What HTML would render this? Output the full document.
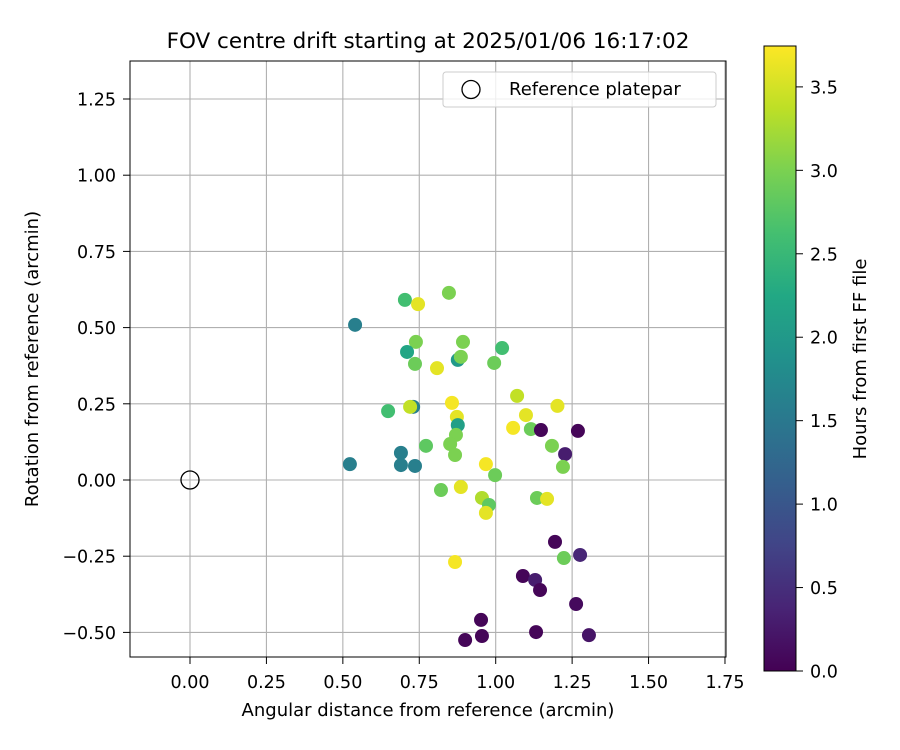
<!DOCTYPE html>
<html><head><meta charset="utf-8"><style>
html,body{margin:0;padding:0;background:#fff;}
svg{display:block;font-family:"DejaVu Sans","Liberation Sans",sans-serif;}
</style></head><body>
<svg id="chart" width="900" height="750" viewBox="0 0 900 750">
<defs>
<linearGradient id="vir" x1="0" y1="1" x2="0" y2="0">
<stop offset="0" stop-color="#440154"/><stop offset="0.1" stop-color="#482475"/><stop offset="0.2" stop-color="#414487"/><stop offset="0.3" stop-color="#355f8d"/><stop offset="0.4" stop-color="#2a788e"/><stop offset="0.5" stop-color="#21918c"/><stop offset="0.6" stop-color="#22a884"/><stop offset="0.7" stop-color="#44bf70"/><stop offset="0.8" stop-color="#7ad151"/><stop offset="0.9" stop-color="#bddf26"/><stop offset="1" stop-color="#fde725"/>
</linearGradient>
</defs>
<text x="428" y="48" text-anchor="middle" font-size="21.5" fill="#000">FOV centre drift starting at 2025/01/06 16:17:02</text>
<g id="grid"></g>
<g id="ticks"></g>
<g id="points"></g>
<circle id="refpt" r="9" fill="none" stroke="#000" stroke-width="1.3"/>
<rect x="130" y="61" width="596" height="596" fill="none" stroke="#000" stroke-width="1"/>
<g>
<rect x="443" y="72" width="273" height="35" rx="3" fill="#fff" fill-opacity="0.8" stroke="#ccc"/>
<circle cx="471" cy="89.5" r="9" fill="none" stroke="#000" stroke-width="1.3"/>
<text x="509" y="95" font-size="18">Reference platepar</text>
</g>
<text x="428" y="716" text-anchor="middle" font-size="18">Angular distance from reference (arcmin)</text>
<text transform="translate(38,359) rotate(-90)" text-anchor="middle" font-size="18">Rotation from reference (arcmin)</text>
<rect x="764" y="46" width="32" height="625" fill="url(#vir)" stroke="#000" stroke-width="1"/>
<g id="cbticks"></g>
<text transform="translate(866,359) rotate(-90)" text-anchor="middle" font-size="18">Hours from first FF file</text>
</svg>
<script>
const xs=[0.703,0.746,0.847,0.540,0.739,0.710,0.893,0.876,0.886,1.021,0.736,0.808,0.995,0.648,0.730,0.720,0.857,0.873,0.876,0.870,0.851,0.867,0.772,1.070,1.099,1.202,1.057,1.115,1.148,1.269,1.184,1.227,1.220,0.690,0.690,0.736,0.523,0.821,0.886,0.968,0.998,0.955,0.978,0.968,1.135,1.168,1.194,1.276,1.223,0.867,1.089,1.129,1.145,1.263,0.952,0.955,0.900,1.132,1.305];
const ys=[0.591,0.577,0.614,0.509,0.453,0.420,0.453,0.394,0.404,0.433,0.381,0.367,0.384,0.226,0.240,0.240,0.253,0.207,0.180,0.148,0.118,0.082,0.112,0.276,0.213,0.243,0.171,0.167,0.164,0.161,0.112,0.085,0.043,0.089,0.049,0.046,0.052,-0.033,-0.023,0.052,0.016,-0.059,-0.082,-0.108,-0.059,-0.062,-0.203,-0.246,-0.256,-0.269,-0.315,-0.328,-0.361,-0.407,-0.459,-0.512,-0.525,-0.499,-0.509];
const hours=[2.6,3.6,3.0,1.6,3.0,2.2,3.0,2.0,3.0,2.6,2.9,3.6,2.9,2.6,1.6,3.4,3.7,3.6,2.1,3.0,3.0,3.0,2.8,3.4,3.6,3.6,3.7,2.9,0.05,0.05,3.0,0.3,3.0,1.6,1.6,1.6,1.6,2.9,3.6,3.7,2.9,3.3,2.8,3.6,2.9,3.6,0.05,0.4,2.9,3.7,0.05,0.3,0.05,0.1,0.05,0.05,0.05,0.05,0.2];
const xTicks=["0.00","0.25","0.50","0.75","1.00","1.25","1.50","1.75"];
const yTicks=["-0.50","-0.25","0.00","0.25","0.50","0.75","1.00","1.25"];
const cTicks=["0.0","0.5","1.0","1.5","2.0","2.5","3.0","3.5"];
const refPoint=[0,0];
const X=v=>190+v*305.7, Y=v=>480-v*304.8;
const CMAX=3.745, CB=v=>671-v*(625/CMAX);
const stops=["#440154","#482475","#414487","#355f8d","#2a788e","#21918c","#22a884","#44bf70","#7ad151","#bddf26","#fde725"];
function hx(c){return [1,3,5].map(i=>parseInt(c.substr(i,2),16));}
function vir(t){t=Math.max(0,Math.min(1,t));const p=t*10,i=Math.min(9,Math.floor(p)),f=p-i;const a=hx(stops[i]),b=hx(stops[i+1]);return "rgb("+a.map((v,k)=>Math.round(v+(b[k]-v)*f)).join(",")+")";}
const NS="http://www.w3.org/2000/svg";
function mk(tag,at,par){const e=document.createElementNS(NS,tag);for(const k in at)e.setAttribute(k,at[k]);par.appendChild(e);return e;}
const g=document.getElementById("grid"),tk=document.getElementById("ticks");
xTicks.forEach(s=>{const x=X(parseFloat(s));
const l=mk("line",{x1:x,x2:x,y1:61,y2:657,stroke:"#b0b0b0","stroke-width":1.1},g);


const t=mk("line",{x1:x,x2:x,y1:657,y2:664,stroke:"#000"},tk);


const tx=mk("text",{x:x,y:688,"text-anchor":"middle","font-size":"17.5"},tk);tx.textContent=s;

});
yTicks.forEach(s=>{const y=Y(parseFloat(s));
const l=mk("line",{x1:130,x2:726,y1:y,y2:y,stroke:"#b0b0b0","stroke-width":1.1},g);


const t=mk("line",{x1:123,x2:130,y1:y,y2:y,stroke:"#000"},tk);


const tx=mk("text",{x:116,y:y+6.5,"text-anchor":"end","font-size":"17.5"},tk);tx.textContent=s.replace("-","\u2212");

});
const pg=document.getElementById("points");
xs.forEach((v,i)=>{const c=mk("circle",{cx:X(v),cy:Y(ys[i]),r:7,fill:vir(hours[i]/CMAX)},pg);

});
const rp=document.getElementById("refpt");rp.setAttribute("cx",X(refPoint[0]));rp.setAttribute("cy",Y(refPoint[1]));
const cb=document.getElementById("cbticks");
cTicks.forEach(s=>{const y=CB(parseFloat(s));
const t=mk("line",{x1:796,x2:803,y1:y,y2:y,stroke:"#000"},cb);


const tx=mk("text",{x:810,y:y+6.5,"font-size":"17.5"},cb);tx.textContent=s;

});
</script>
</body></html>
